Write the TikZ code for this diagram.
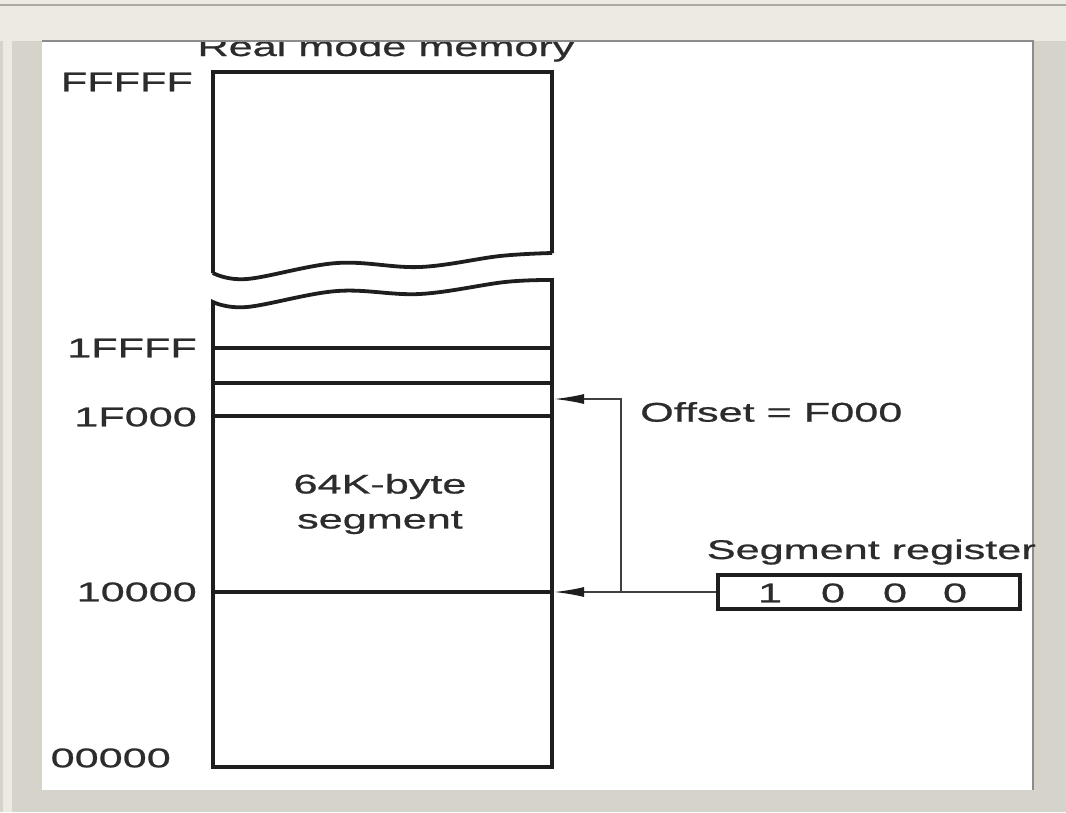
\documentclass[tikz,border=0pt]{standalone}
\usepackage{fontspec}
\setmainfont{Liberation Sans}
\newfontfamily\lblfont[FakeStretch=1.6,FakeBold=0.8]{Liberation Sans}
\usetikzlibrary{arrows.meta}
\definecolor{frameg}{HTML}{D6D3CA}
\definecolor{framelt}{HTML}{ECEAE2}
\definecolor{edgeg}{HTML}{8C8C8C}
\definecolor{ink}{HTML}{1E1E1E}
\definecolor{txt}{HTML}{2C2C2C}
\begin{document}
\begin{tikzpicture}[x=1pt,y=-1pt,
  lbl/.style={inner sep=0pt,text=txt,font=\lblfont\fontsize{27}{32}\selectfont},
  memline/.style={draw=ink,line width=3.8pt,line join=miter},
  divline/.style={draw=ink,line width=3.2pt},
  conn/.style={draw=ink!85,line width=1.8pt},
  arr/.style={conn,-{Latex[length=30pt,width=10pt,color=ink,fill=ink]}},
  regbox/.style={draw=ink,line width=3.8pt,minimum width=302pt,minimum height=34pt,inner sep=0pt}]
\useasboundingbox (0,0) rectangle (1066,812);
% frame
\fill[frameg] (0,0) rectangle (1066,812);
\fill[framelt] (0,0) rectangle (1066,41);
\fill[framelt] (3,0) rectangle (12,812);
\fill[white] (42,42) rectangle (1033,790);
% title (partly hidden behind frame)
\node[lbl,anchor=base] (title) at (386,56) {Real mode memory};
\fill[framelt] (0,0) rectangle (1066,40);
\draw[frameg!80!black,line width=1.2pt] (0,5) -- (1066,5);
\draw[edgeg,line width=2pt] (42,41) -- (1033,41) -- (1033,790);
% memory, upper part
\draw[memline] (213,273) -- (213,72) -- (552,72) -- (552,253)
  plot[smooth,tension=0.6] coordinates {(552,253) (500,256) (420,267) (337,263) (247,279) (213,273)};
% memory, lower part
\draw[memline] (213,302) plot[smooth,tension=0.6] coordinates {(213,302) (247,307) (337,291) (420,294) (505,282) (552,280)}
  -- (552,767) -- (213,767) -- cycle;
% dividers
\coordinate (mL1) at (213,348); \coordinate (mR1) at (552,348);
\coordinate (mL2) at (213,383); \coordinate (mR2) at (552,383);
\coordinate (mL3) at (213,416); \coordinate (mR3) at (552,416);
\coordinate (mL4) at (213,592); \coordinate (mR4) at (552,592);
\draw[divline] (mL1) -- (mR1);
\draw[divline] (mL2) -- (mR2);
\draw[divline] (mL3) -- (mR3);
\draw[divline] (mL4) -- (mR4);
% address labels
\node[lbl,anchor=east] (aF) at (193,82) {FFFFF};
\node[lbl,anchor=east] (a1F) at (197,348) {1FFFF};
\node[lbl,anchor=east] (a1F0) at (197,417) {1F000};
\node[lbl,anchor=east] (a10) at (197,592) {10000};
\node[lbl,anchor=east] (a00) at (171,758) {00000};
% segment text
\node[lbl,align=center] (seg) at (380,504) {64K-byte\\[3pt]segment};
% register
\node[regbox] (reg) at (869,592) {};
\node[lbl] (d1) at (770,593) {1};
\node[lbl] (d2) at (833,593) {0};
\node[lbl] (d3) at (895,593) {0};
\node[lbl] (d4) at (955,593) {0};
\node[lbl,anchor=east] (reglbl) at (1036,552) {Segment register};
\node[lbl,anchor=west] (off) at (640,412) {Offset = F000};
% connectors
\coordinate (junc) at (621,592);
\coordinate (turn) at (621,399);
\coordinate (offend) at (554,399);
\coordinate (segend) at (554,592);
\draw[arr] (reg.west) -- (segend);
\draw[arr] (junc) -- (turn) -- (offend);
\end{tikzpicture}
\end{document}
